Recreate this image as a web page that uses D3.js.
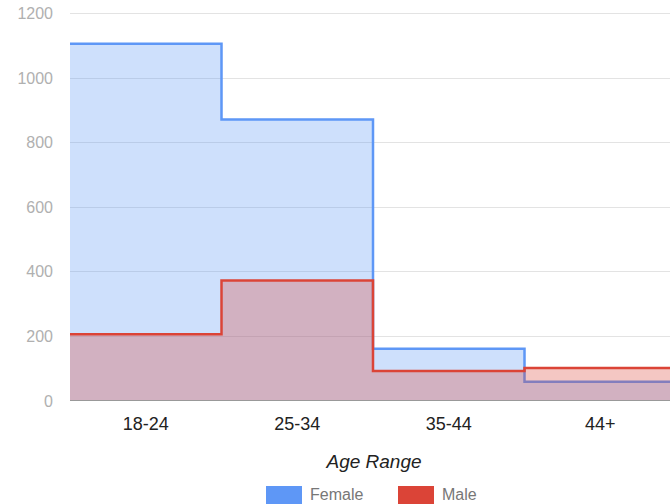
<!DOCTYPE html>
<html><head><meta charset="utf-8">
<script src="https://cdn.jsdelivr.net/npm/d3@7"></script>
<style>body{margin:0;background:#fff}svg{display:block;font-family:"Liberation Sans",Arial,sans-serif}</style>
</head><body><svg id="c" width="670" height="504"></svg>
<script>
const categories = ["18-24","25-34","35-44","44+"];
const female = [1105, 870, 160, 58];
const male = [205, 372, 91, 101];
const yTicks = [0,200,400,600,800,1000,1200];
const seriesNames = ["Female","Male"];
const colors = {Female:"#5e97f6", Male:"#db4437"};

const svg = d3.select("#c");
const x = d3.scaleBand().domain(categories).range([70, 676]).padding(0);
const y = d3.scaleLinear().domain([0,1200]).range([400.5, 13]);

// gridlines
svg.append("g").selectAll("line").data(yTicks.filter(d=>d>0)).join("line")
  .attr("x1",70).attr("x2",670).attr("y1",d=>Math.round(y(d))+0.5).attr("y2",d=>Math.round(y(d))+0.5)
  .attr("stroke","#e3e3e3").attr("stroke-width",1);

// y labels
svg.append("g").selectAll("text").data(yTicks).join("text")
  .attr("x",53).attr("y",d=>y(d)+6).attr("text-anchor","end")
  .attr("font-size",16).attr("fill","#b0b0b0").text(d=>d);

function pts(vals){
  const p = categories.map((c,i)=>[x(c), vals[i]]);
  p.push([x(categories[categories.length-1])+x.bandwidth(), vals[vals.length-1]]);
  return p;
}
const area = d3.area().curve(d3.curveStepAfter).x(d=>d[0]).y0(y(0)).y1(d=>y(d[1]));
const line = d3.line().curve(d3.curveStepAfter).x(d=>d[0]).y(d=>y(d[1]));

[[female,"Female"],[male,"Male"]].forEach(([vals,name])=>{
  const p = pts(vals);
  svg.append("path").attr("d",area(p)).attr("fill",colors[name]).attr("fill-opacity",0.3);
  svg.append("path").attr("d",line(p)).attr("fill","none").attr("stroke",colors[name]).attr("stroke-width",2.5);
});

// baseline
svg.append("line").attr("x1",70).attr("x2",670).attr("y1",400.5).attr("y2",400.5)
  .attr("stroke","#999").attr("stroke-width",1);

// x labels
svg.append("g").selectAll("text").data(categories).join("text")
  .attr("x",d=>x(d)+x.bandwidth()/2).attr("y",430).attr("text-anchor","middle")
  .attr("font-size",18).attr("fill","#222").text(d=>d);

// axis title
svg.append("text").attr("x",374).attr("y",468).attr("text-anchor","middle")
  .attr("font-size",19).attr("font-style","italic").attr("fill","#222").text("Age Range");

// legend
const leg = [{name:"Female",x:266},{name:"Male",x:398}];
leg.forEach(l=>{
  svg.append("rect").attr("x",l.x).attr("y",486).attr("width",36).attr("height",18).attr("fill",colors[l.name]);
  svg.append("text").attr("x",l.x+44).attr("y",500).attr("font-size",16).attr("fill","#777").text(l.name);
});
</script></body></html>
